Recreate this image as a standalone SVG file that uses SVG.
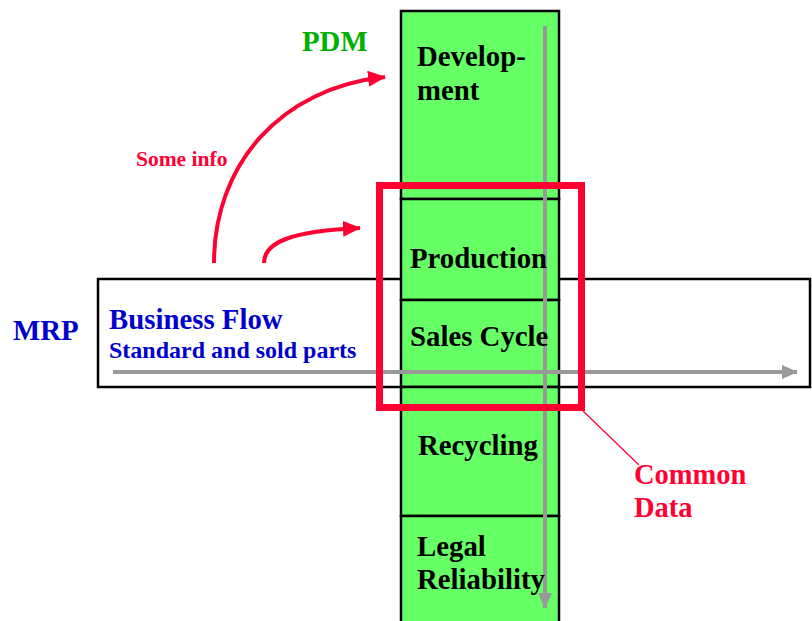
<svg xmlns="http://www.w3.org/2000/svg" width="812" height="621" viewBox="0 0 812 621">
  <style>
    .lbl { font-family: "Liberation Serif", "Times New Roman", serif; font-weight: bold; }
    .stage { fill: #66FF66; stroke: #000; stroke-width: 2.5; }
    .stage-text { font-size: 28.8px; fill: #000; }
    .flow { stroke: #999999; stroke-width: 4; fill: none; }
    .red { stroke: #FF0033; fill: none; }
  </style>
  <defs>
    <marker id="grayHead" viewBox="0 0 16 14" refX="15" refY="7" markerWidth="16" markerHeight="14" markerUnits="userSpaceOnUse" orient="auto">
      <path d="M0,0 L16,7 L0,14 Z" fill="#999999"/>
    </marker>
    <marker id="redHead" viewBox="0 0 18 16" refX="17" refY="8" markerWidth="18" markerHeight="16" markerUnits="userSpaceOnUse" orient="auto">
      <path d="M0,0 L18,8 L0,16 Z" fill="#FF0033"/>
    </marker>
  </defs>

  <!-- MRP business-flow band -->
  <g id="mrp">
    <rect x="98" y="279" width="712" height="108" fill="#fff" stroke="#000" stroke-width="2.5"/>
    <text class="lbl" x="13" y="340" font-size="28.8" fill="#0000CC">MRP</text>
    <text class="lbl" x="109" y="329" font-size="28.8" fill="#0000CC">Business Flow</text>
    <text class="lbl" x="109" y="358" font-size="24" fill="#0000CC">Standard and sold parts</text>
  </g>

  <!-- PDM lifecycle column: stage boxes -->
  <g id="development">
    <rect class="stage" x="401" y="11" width="158" height="188"/>
  </g>
  <g id="production">
    <rect class="stage" x="401" y="199" width="158" height="101"/>
  </g>
  <g id="sales-cycle">
    <rect class="stage" x="401" y="300" width="158" height="87"/>
  </g>
  <g id="recycling">
    <rect class="stage" x="401" y="387" width="158" height="129"/>
  </g>
  <g id="legal-reliability">
    <rect class="stage" x="401" y="516" width="158" height="110"/>
  </g>

  <g id="pdm-label">
    <text class="lbl" x="302" y="51" font-size="28.8" fill="#00B000">PDM</text>
  </g>

  <!-- connectors -->
  <g id="connectors">
    <line class="flow" x1="113" y1="372" x2="797" y2="372" marker-end="url(#grayHead)"/>
    <line class="flow" x1="545" y1="26" x2="545" y2="608" marker-end="url(#grayHead)"/>
    <path class="red" stroke-width="4" d="M214,263 C214,165 280,88 385,77" marker-end="url(#redHead)"/>
    <path class="red" stroke-width="4" d="M264,263 C264,242 292,231 360,228" marker-end="url(#redHead)"/>
    <line class="red" stroke-width="1.2" x1="583" y1="411" x2="639" y2="465"/>
  </g>

  <!-- stage labels, drawn above the flow lines -->
  <g id="stage-labels" class="lbl stage-text">
    <text x="417" y="66">Develop-</text>
    <text x="417" y="100">ment</text>
    <text x="410" y="268">Production</text>
    <text x="410" y="346">Sales Cycle</text>
    <text x="418" y="455">Recycling</text>
    <text x="417" y="556">Legal</text>
    <text x="417" y="589">Reliability</text>
  </g>

  <!-- common data highlight -->
  <g id="common-data">
    <rect class="red" x="379.5" y="185.5" width="202" height="222" stroke-width="7"/>
    <text class="lbl" x="634" y="484" font-size="28.5" fill="#FF0033">Common</text>
    <text class="lbl" x="634" y="517" font-size="28.5" fill="#FF0033">Data</text>
  </g>

  <g id="some-info">
    <text class="lbl" x="136" y="166" font-size="21.5" fill="#FF0033">Some info</text>
  </g>
</svg>
